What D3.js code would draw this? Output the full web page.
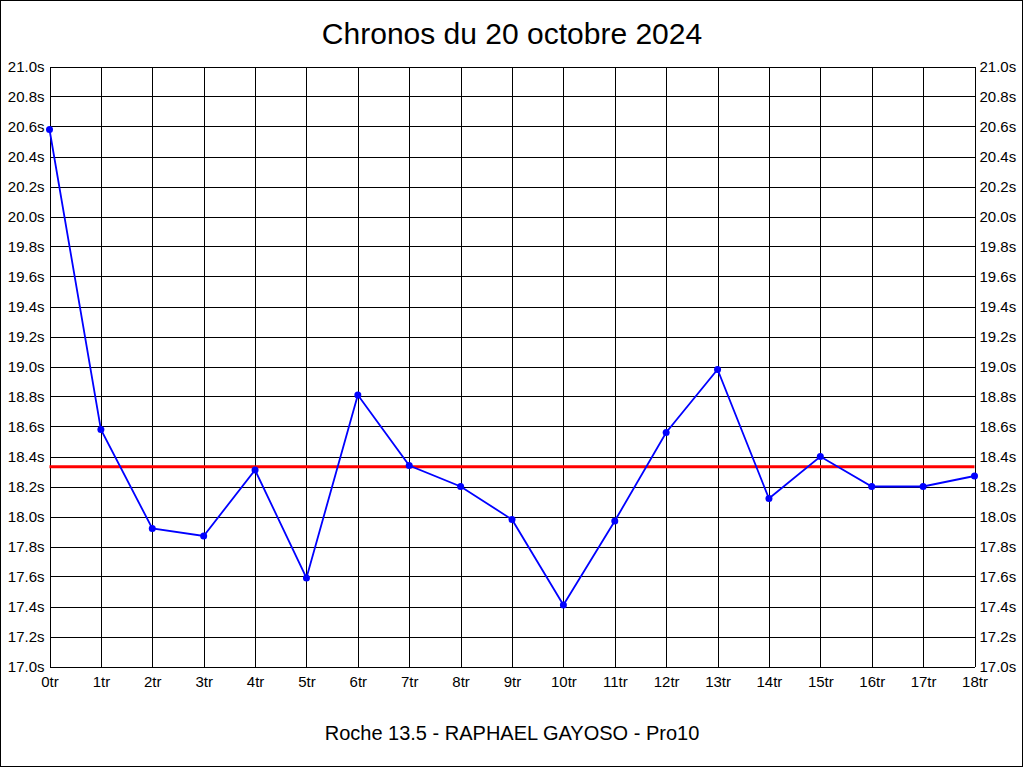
<!DOCTYPE html>
<html><head><meta charset="utf-8">
<script src="https://cdn.jsdelivr.net/npm/d3@7"></script>
<style>body{margin:0;background:#fff}svg{display:block}text{font-family:"Liberation Sans",Arial,sans-serif}</style>
</head><body><div id="chart"></div>
<script>
const title = "Chronos du 20 octobre 2024";
const subtitle = "Roche 13.5 - RAPHAEL GAYOSO - Pro10";
const laps = d3.range(0, 19);
const lapLabels = laps.map(d => d + "tr");
const times = [20.58, 18.58, 17.92, 17.87, 18.31, 17.59, 18.81, 18.34, 18.20, 17.98, 17.41, 17.97, 18.56, 18.98, 18.12, 18.40, 18.20, 18.20, 18.27];
const yTicks = d3.range(0, 21).map(i => +(17 + i * 0.2).toFixed(1));
const meanTime = d3.mean(times);

const W = 1024, H = 768;
const m = {left: 49.5, right: 1024 - 974.5, top: 66.5, bottom: 768 - 666.5};
const svg = d3.select("#chart").append("svg").attr("width", W).attr("height", H);
svg.append("rect").attr("x", 0.5).attr("y", 0.5).attr("width", W - 2).attr("height", H - 2)
  .attr("fill", "#fff").attr("stroke", "#000");

const x = d3.scaleLinear().domain([0, 18]).range([m.left, W - m.right]);
const y = d3.scaleLinear().domain([17, 21]).range([H - m.bottom, m.top]);

const g = svg.append("g");
g.selectAll(".hg").data(yTicks).join("line")
  .attr("x1", x(0)).attr("x2", x(18))
  .attr("y1", d => Math.round(y(d)) + 0.5).attr("y2", d => Math.round(y(d)) + 0.5)
  .attr("stroke", "#000").attr("stroke-width", 1).attr("shape-rendering", "crispEdges");
g.selectAll(".vg").data(laps).join("line")
  .attr("x1", d => Math.round(x(d)) + 0.5).attr("x2", d => Math.round(x(d)) + 0.5)
  .attr("y1", y(21)).attr("y2", y(17))
  .attr("stroke", "#000").attr("stroke-width", 1).attr("shape-rendering", "crispEdges");

const fmt = d => d.toFixed(1) + "s";
const yl = d3.axisLeft(y).tickValues(yTicks).tickFormat(fmt).tickSize(0).tickPadding(5);
const yr = d3.axisRight(y).tickValues(yTicks).tickFormat(fmt).tickSize(0).tickPadding(5);
const xb = d3.axisBottom(x).tickValues(laps).tickFormat(d => lapLabels[d]).tickSize(0).tickPadding(10);
const styleAxis = sel => { sel.select(".domain").remove(); sel.selectAll("text").attr("font-size", 15).attr("fill", "#000").attr("font-family", "Liberation Sans, Arial, sans-serif"); };
svg.append("g").attr("transform", `translate(${x(0)},0)`).call(yl).call(styleAxis);
svg.append("g").attr("transform", `translate(${x(18)},0)`).call(yr).call(styleAxis);
svg.append("g").attr("transform", `translate(0,${y(17)})`).call(xb).call(styleAxis);

svg.append("line").attr("x1", x(0)).attr("x2", x(18))
  .attr("y1", y(meanTime)).attr("y2", y(meanTime))
  .attr("stroke", "#ff0000").attr("stroke-width", 3);

const line = d3.line().x((d, i) => x(laps[i])).y(d => y(d));
svg.append("path").datum(times).attr("d", line).attr("fill", "none")
  .attr("stroke", "#0000ff").attr("stroke-width", 1.8);
svg.selectAll(".pt").data(times).join("circle")
  .attr("cx", (d, i) => x(laps[i])).attr("cy", d => y(d)).attr("r", 3.5).attr("fill", "#0000ff");

svg.append("text").attr("x", W / 2).attr("y", 44).attr("text-anchor", "middle")
  .attr("font-size", 30).attr("fill", "#000").text(title);
svg.append("text").attr("x", W / 2).attr("y", 740).attr("text-anchor", "middle")
  .attr("font-size", 20).attr("fill", "#000").text(subtitle);
</script></body></html>
